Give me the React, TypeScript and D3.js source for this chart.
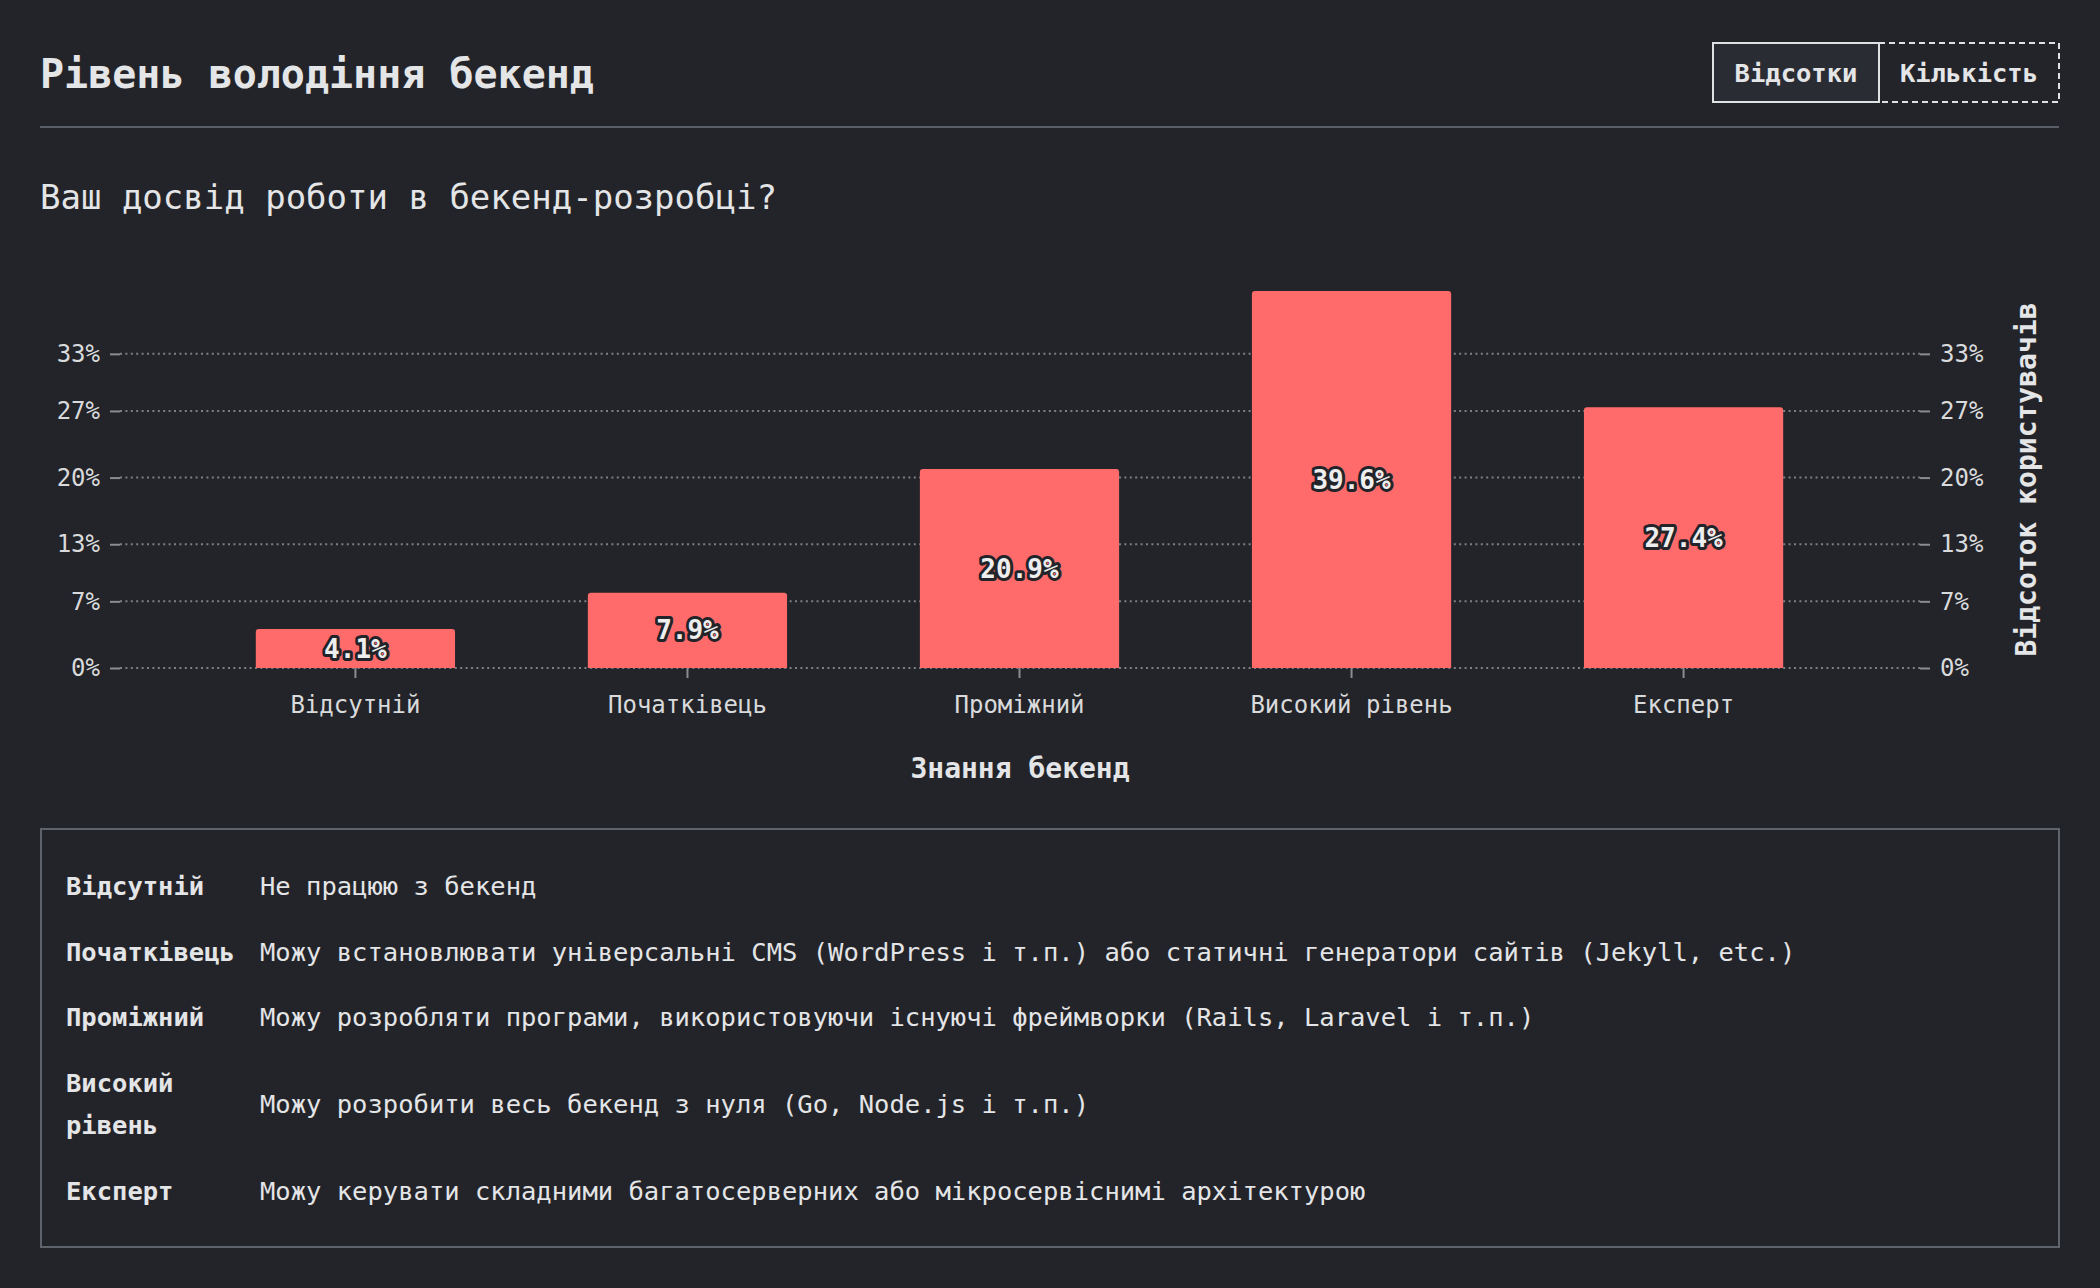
import { useEffect, useRef } from "react"
import * as d3 from "d3"

const categories = ["Відсутній", "Початківець", "Проміжний", "Високий рівень", "Експерт"]
const shares = [4.1, 7.9, 20.9, 39.6, 27.4]
const yTicks = [0, 7, 13, 20, 27, 33]
const legendLabels = [["Відсутній"], ["Початківець"], ["Проміжний"], ["Високий", "рівень"], ["Експерт"]]
const legendTexts = [
  "Не працюю з бекенд",
  "Можу встановлювати універсальні CMS (WordPress і т.п.) або статичні генератори сайтів (Jekyll, etc.)",
  "Можу розробляти програми, використовуючи існуючі фреймворки (Rails, Laravel і т.п.)",
  "Можу розробити весь бекенд з нуля (Go, Node.js і т.п.)",
  "Можу керувати складними багатосерверних або мікросервіснимі архітектурою",
]

const BG = "#232429"
const TEXT = "#e4e5e7"
const FONT = "'DejaVu Sans Mono', 'Liberation Mono', monospace"

export default function App() {
  const svgRef = useRef<SVGSVGElement>(null)

  useEffect(() => {
    document.body.style.margin = "0"
    document.body.style.background = BG
    if (!svgRef.current) return

    const width = 2100
    const height = 1288
    const svg = d3.select(svgRef.current).attr("width", width).attr("height", height)
    svg.selectAll("*").remove()
    svg.append("rect").attr("width", width).attr("height", height).attr("fill", BG)

    // header
    svg.append("text")
      .attr("x", 40).attr("y", 88)
      .attr("fill", TEXT).attr("font-family", FONT).attr("font-weight", 700).attr("font-size", 40)
      .text("Рівень володіння бекенд")

    svg.append("rect")
      .attr("x", 1713).attr("y", 43).attr("width", 166).attr("height", 59)
      .attr("fill", "#2a2c34").attr("stroke", "#e0e1e3").attr("stroke-width", 2)
    svg.append("rect")
      .attr("x", 1879).attr("y", 43).attr("width", 180).attr("height", 59)
      .attr("fill", "none").attr("stroke", "#e0e1e3").attr("stroke-width", 2).attr("stroke-dasharray", "6 4")
    svg.append("line")
      .attr("x1", 1879).attr("x2", 1879).attr("y1", 43).attr("y2", 102)
      .attr("stroke", "#e0e1e3").attr("stroke-width", 2)
    ;[["Відсотки", 1796], ["Кількість", 1969]].forEach(([t, x]) => {
      svg.append("text")
        .attr("x", x).attr("y", 82).attr("text-anchor", "middle")
        .attr("fill", TEXT).attr("font-family", FONT).attr("font-weight", 700).attr("font-size", 25.5)
        .text(t as string)
    })

    svg.append("line")
      .attr("x1", 40).attr("x2", 2059).attr("y1", 127).attr("y2", 127)
      .attr("stroke", "#5a5e66").attr("stroke-width", 2)

    svg.append("text")
      .attr("x", 40).attr("y", 209)
      .attr("fill", TEXT).attr("font-family", FONT).attr("font-size", 34)
      .text("Ваш досвід роботи в бекенд-розробці?")

    // chart
    const left = 120
    const right = 1920
    const x = d3.scaleBand().domain(categories).range([123, 1916]).paddingInner(0.4).paddingOuter(0.4)
    const y = d3.scaleLinear().domain([0, d3.max(shares) as number]).range([668, 291])

    const grid = svg.append("g")
    grid.selectAll("line.grid")
      .data(yTicks)
      .enter()
      .append("line")
      .attr("x1", left).attr("x2", right)
      .attr("y1", (d) => y(d)).attr("y2", (d) => y(d))
      .attr("stroke", "#7d7f84").attr("stroke-width", 2).attr("stroke-dasharray", "2 3.4")

    const tickFont = (g: d3.Selection<SVGGElement, unknown, null, undefined>) => {
      g.select(".domain").remove()
      g.selectAll(".tick line").attr("stroke", "#8a8c90").attr("stroke-width", 2)
      g.selectAll(".tick text")
        .attr("fill", "#d9dadc").attr("font-family", FONT).attr("font-size", 24)
    }

    svg.append("g")
      .attr("transform", `translate(${left},0)`)
      .call(d3.axisLeft(y).tickValues(yTicks).tickSize(10).tickPadding(10).tickFormat((d) => `${d}%`))
      .call(tickFont)

    svg.append("g")
      .attr("transform", `translate(${right},0)`)
      .call(d3.axisRight(y).tickValues(yTicks).tickSize(10).tickPadding(10).tickFormat((d) => `${d}%`))
      .call(tickFont)

    svg.append("g")
      .attr("transform", `translate(0,668)`)
      .call(d3.axisBottom(x).tickSize(10).tickPadding(18))
      .call(tickFont)

    const bars = svg.append("g")
    bars.selectAll("path")
      .data(shares)
      .enter()
      .append("path")
      .attr("fill", "#ff6b6b")
      .attr("d", (d, i) => {
        const x0 = x(categories[i]) as number
        const w = x.bandwidth()
        const y0 = y(d)
        const h = y(0) - y0
        const r = 3
        return `M${x0},${y0 + h}V${y0 + r}Q${x0},${y0} ${x0 + r},${y0}H${x0 + w - r}Q${x0 + w},${y0} ${x0 + w},${y0 + r}V${y0 + h}Z`
      })

    bars.selectAll("text")
      .data(shares)
      .enter()
      .append("text")
      .attr("x", (d, i) => (x(categories[i]) as number) + x.bandwidth() / 2)
      .attr("y", (d) => (y(d) + y(0)) / 2)
      .attr("dy", "0.35em")
      .attr("text-anchor", "middle")
      .attr("font-family", FONT).attr("font-weight", 700).attr("font-size", 26)
      .attr("fill", "#eeeeee").attr("stroke", BG).attr("stroke-width", 6)
      .attr("stroke-linejoin", "round").attr("paint-order", "stroke")
      .text((d) => `${d.toFixed(1)}%`)

    svg.append("text")
      .attr("x", (left + right) / 2).attr("y", 778).attr("text-anchor", "middle")
      .attr("fill", TEXT).attr("font-family", FONT).attr("font-weight", 700).attr("font-size", 28)
      .text("Знання бекенд")

    svg.append("text")
      .attr("transform", `translate(2036,${(y(0) + y.range()[1]) / 2}) rotate(-90)`)
      .attr("text-anchor", "middle")
      .attr("fill", TEXT).attr("font-family", FONT).attr("font-weight", 700).attr("font-size", 28)
      .text("Відсоток користувачів")

    // legend
    svg.append("rect")
      .attr("x", 41).attr("y", 829).attr("width", 2018).attr("height", 418)
      .attr("fill", "none").attr("stroke", "#5f636b").attr("stroke-width", 2)

    const lineH = 42.5
    const rowGap = 65.5
    let top = 895
    legendLabels.forEach((lines, i) => {
      lines.forEach((ln, j) => {
        svg.append("text")
          .attr("x", 66).attr("y", top + j * lineH)
          .attr("fill", TEXT).attr("font-family", FONT).attr("font-weight", 700).attr("font-size", 25.5)
          .text(ln)
      })
      svg.append("text")
        .attr("x", 260).attr("y", top + ((lines.length - 1) * lineH) / 2)
        .attr("fill", TEXT).attr("font-family", FONT).attr("font-size", 25.5)
        .text(legendTexts[i])
      top += (lines.length - 1) * lineH + rowGap
    })
  }, [])

  return <svg ref={svgRef} style={{ display: "block" }} />
}
